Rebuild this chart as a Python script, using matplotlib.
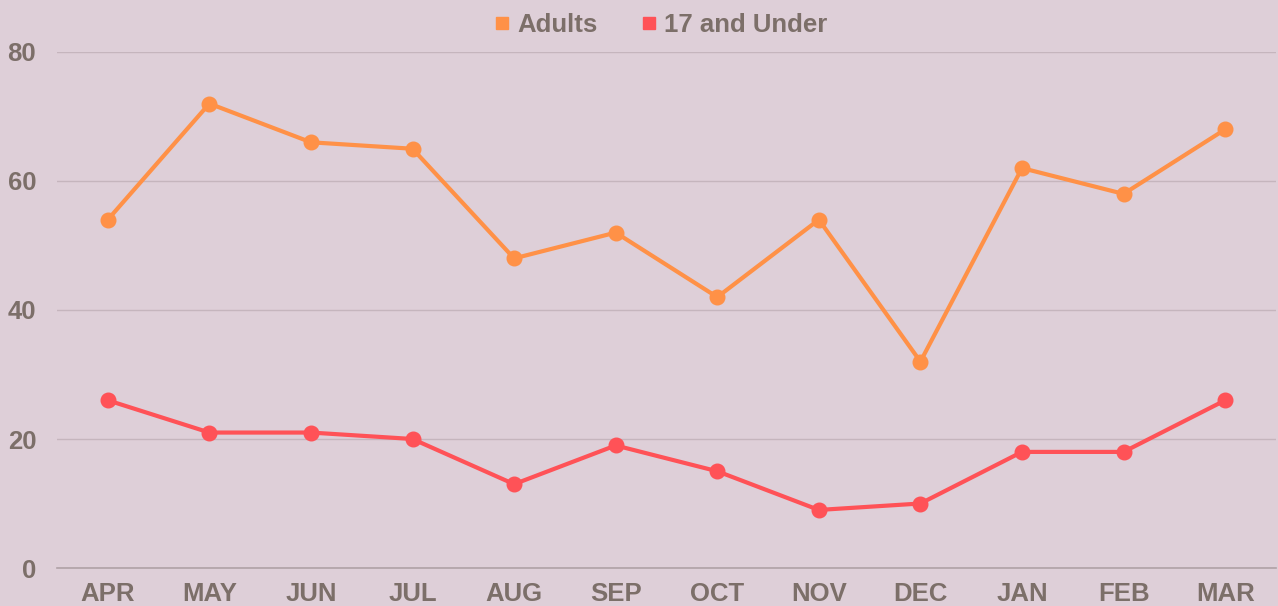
import matplotlib.pyplot as plt
from matplotlib.lines import Line2D

months = ["APR", "MAY", "JUN", "JUL", "AUG", "SEP", "OCT", "NOV", "DEC", "JAN", "FEB", "MAR"]
adults = [54, 72, 66, 65, 48, 52, 42, 54, 32, 62, 58, 68]
under17 = [26, 21, 21, 20, 13, 19, 15, 9, 10, 18, 18, 26]
yticks = [0, 20, 40, 60, 80]

BG = "#decfd8"
TXT = "#7c6f69"
ORANGE = "#ff9147"
RED = "#ff5257"


def main():
    plt.rcParams["font.family"] = ["Liberation Sans", "DejaVu Sans"]
    plt.rcParams["font.weight"] = "bold"

    fig = plt.figure(figsize=(12.78, 6.06), dpi=100, facecolor=BG)
    ax = fig.add_axes([0.0446, 0.0627, 0.9538, 0.8515])
    ax.set_facecolor(BG)

    x = [i + 0.5 for i in range(len(months))]
    ax.plot(x, adults, color=ORANGE, lw=3, marker="o", ms=10.5, zorder=3)
    ax.plot(x, under17, color=RED, lw=3, marker="o", ms=10.5, zorder=3)

    ax.set_xlim(0, len(months))
    ax.set_ylim(0, 80)
    ax.set_xticks(x)
    ax.set_xticklabels(months)
    ax.set_yticks(yticks)
    ax.tick_params(axis="both", length=0, labelsize=18.5, labelcolor=TXT)
    ax.tick_params(axis="x", pad=10)
    ax.tick_params(axis="y", pad=15)
    for lbl in ax.get_xticklabels() + ax.get_yticklabels():
        lbl.set_fontweight("bold")

    ax.grid(axis="y", color="#c5b5bd", lw=1)
    ax.set_axisbelow(True)
    for s in ["top", "right", "left"]:
        ax.spines[s].set_visible(False)
    ax.spines["bottom"].set_color("#b0a2a6")
    ax.spines["bottom"].set_linewidth(1.2)

    handles = [
        Line2D([], [], ls="none", marker="s", ms=8, color=ORANGE),
        Line2D([], [], ls="none", marker="s", ms=8, color=RED),
    ]
    leg = fig.legend(handles, ["Adults", "17 and Under"], loc="center", bbox_to_anchor=(0.517, 0.958),
                     ncol=2, frameon=False, fontsize=18.5, handlelength=0.6, handletextpad=0.3,
                     columnspacing=1.7)
    for t in leg.get_texts():
        t.set_color(TXT)
        t.set_fontweight("bold")

    fig.savefig("out.png", facecolor=BG)


if __name__ == '__main__':
    main()
